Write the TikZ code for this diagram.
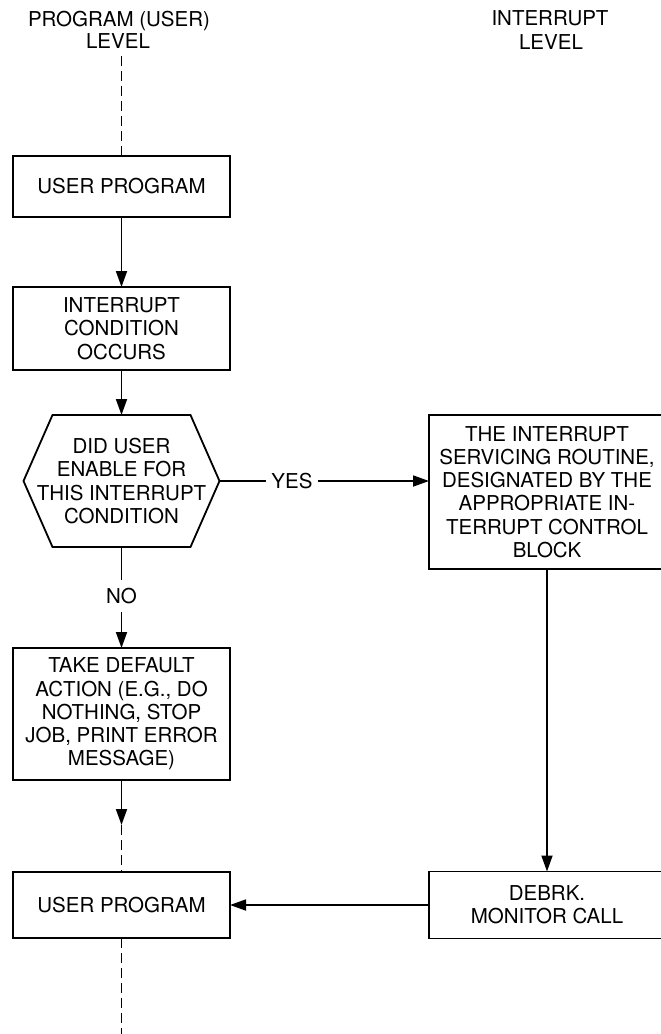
\documentclass[tikz,border=0pt]{standalone}
\usepackage{fontspec}
\setmainfont{TeX Gyre Heros}
\usetikzlibrary{arrows.meta}
\begin{document}
\begin{tikzpicture}[x=1pt,y=-1pt,
  every node/.style={font=\fontsize{20.5}{23.3}\selectfont, inner sep=0pt, outer sep=0pt, align=center},
  conn/.style={line width=1.8pt},
  boxnode/.style={draw, line width=1.8pt, minimum width=217pt},
  rboxnode/.style={draw, line width=1.8pt, minimum width=236pt},
  arr/.style={conn, -{Triangle[length=16pt,width=11pt]}},
  dashline/.style={conn, dash pattern=on 10pt off 5pt},
]
\useasboundingbox (0,0) rectangle (661,1034);
\clip (0,0) rectangle (661,1034);

% titles
\node[anchor=base] (t1a) at (119,26) {PROGRAM (USER)};
\node[anchor=base] (t1b) at (118,48) {LEVEL};
\node[anchor=base] (t2a) at (550,25) {INTERRUPT};
\node[anchor=base] (t2b) at (551,49) {LEVEL};

% left column
\coordinate (top) at (121.5,56);
\node[boxnode, minimum height=61pt] (up1) at (121.5,186.5) {USER PROGRAM};
\node[boxnode, minimum height=83pt] (occ) at (121.5,328.5) {INTERRUPT\\CONDITION\\OCCURS};
\node[minimum width=196pt, minimum height=132pt] (hex) at (121.5,481) {DID USER\\ENABLE FOR\\THIS INTERRUPT\\CONDITION};
\draw[conn, line join=miter] (hex.west) -- ([xshift=29pt]hex.north west) -- ([xshift=-29pt]hex.north east) -- (hex.east) -- ([xshift=-29pt]hex.south east) -- ([xshift=29pt]hex.south west) -- cycle;
\node[minimum height=32pt] (no) at (121.5,596) {NO};
\node[boxnode, minimum height=132pt] (dflt) at (121.5,714) {TAKE DEFAULT\\ACTION (E.G., DO\\NOTHING, STOP\\JOB, PRINT ERROR\\MESSAGE)};
\coordinate (mid) at (121.5,825);
\node[boxnode, minimum height=66pt] (up2) at (121.5,905) {USER PROGRAM};
\coordinate (bot) at (121.5,1040);

% right column
\node[inner xsep=5pt] (yes) at (292,481) {YES};
\node[rboxnode, minimum height=154pt] (isr) at (547,492) {THE INTERRUPT\\SERVICING ROUTINE,\\DESIGNATED BY THE\\APPROPRIATE IN-\\TERRUPT CONTROL\\BLOCK};
\node[rboxnode, minimum height=67pt] (debrk) at (547,905) {DEBRK.\\MONITOR CALL};

% connectors
\draw[dashline] (top) -- (up1.north);
\draw[arr] (up1.south) -- (occ.north);
\draw[arr] (occ.south) -- (hex.north);
\draw[conn] (hex.east) -- (yes.west);
\draw[arr] (yes.east) -- (yes.east -| isr.west);
\draw[conn] (hex.south) -- (no.north);
\draw[arr] (no.south) -- (dflt.north);
\draw[arr] (dflt.south) -- (mid);
\draw[dashline] (mid) -- (up2.north);
\draw[dashline] (up2.south) -- (bot);
\draw[arr] (isr.south) -- (debrk.north);
\draw[arr] (debrk.west) -- (up2.east);
\end{tikzpicture}
\end{document}
